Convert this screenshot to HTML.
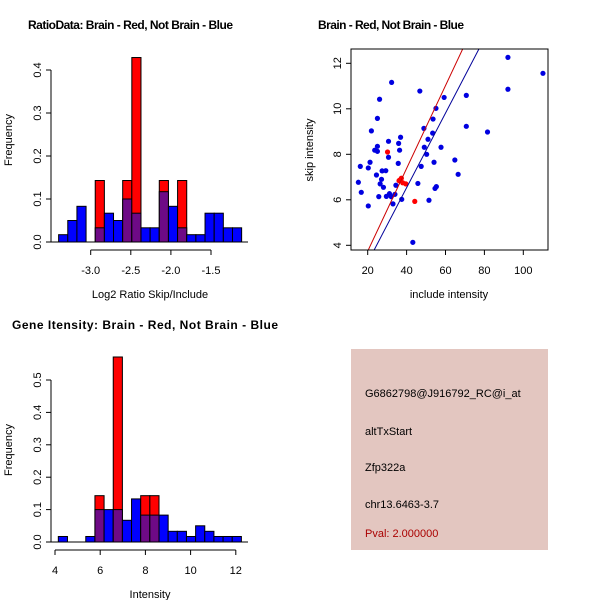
<!DOCTYPE html>
<html><head><meta charset="utf-8"><style>
html,body{margin:0;padding:0;background:#fff}
svg{display:block;font-family:"Liberation Sans",Arial,sans-serif}
</style></head><body>
<svg id="c" width="600" height="600" viewBox="0 0 600 600"></svg>
<script>
// ---- Ratio histogram data ----
const ratioBlue = [0.017,0.05,0.083,0,0.033,0.067,0.05,0.1,0.067,0.033,0.033,0.117,0.083,0.033,0.017,0.017,0.067,0.067,0.033,0.033];
const ratioRed  = [0,0,0,0,0.143,0,0,0.143,0.429,0,0,0.143,0,0.143,0,0,0,0,0,0];
const ratioXTicks = [-3.0,-2.5,-2.0,-1.5];
const ratioYTicks = [0.0,0.1,0.2,0.3,0.4];
const ratioBinStart = -3.40, ratioBinWidth = 0.1141;
// ---- Intensity histogram data ----
const intBlue = [0.017,0,0,0.017,0.1,0.1,0.1,0.067,0.133,0.083,0.083,0.083,0.033,0.033,0.017,0.05,0.033,0.017,0.017,0.017];
const intRed  = [0,0,0,0,0.143,0,0.571,0,0,0.143,0.143,0,0,0,0,0,0,0,0,0];
const intXTicks = [4,6,8,10,12];
const intYTicks = [0.0,0.1,0.2,0.3,0.4,0.5];
const intBinStart = 4.147, intBinWidth = 0.405;
// ---- Scatter data ----
const blueX = [15.2,16.2,16.7,20.3,20.3,21.2,21.9,23.6,24.5,25.0,25.0,25.0,26.1,25.7,26.4,27.1,27.4,28.1,29.3,29.6,30.7,30.7,31.2,32.3,32.1,33.0,34.0,34.5,35.7,35.9,36.4,36.9,37.5,43.2,45.8,46.8,47.5,48.9,49.1,50.3,51.0,51.5,53.4,53.6,54.1,54.6,55.3,55.1,57.7,59.3,64.8,66.5,70.7,70.7,81.6,92.1,92.1,110.1];
const blueY = [6.77,7.47,6.33,7.40,5.73,7.65,9.03,8.18,7.09,8.35,8.13,9.58,10.42,6.14,6.70,6.90,7.27,6.55,7.28,6.15,8.57,7.87,6.27,11.16,6.14,5.82,6.24,6.64,7.60,8.48,8.18,8.75,6.02,4.13,6.72,10.78,7.47,9.14,8.31,8.0,8.66,5.98,8.93,9.55,7.65,6.50,6.58,10.02,8.31,10.50,7.75,7.12,10.59,9.23,8.98,10.86,12.26,11.56];
const redX = [30.2,36.1,37.3,38.0,39.6,44.2,36.4];
const redY = [8.10,6.84,6.95,6.75,6.70,5.93,6.86];
const redFit = [0.10,0.182];   // intercept, slope
const blueFit = [-0.03,0.164];
const scXTicks = [20,40,60,80,100];
const scYTicks = [4,6,8,10,12];
// ---- Info panel ----
const infoLines = ["G6862798@J916792_RC@i_at","altTxStart","Zfp322a","chr13.6463-3.7"];
const pvalText = "Pval: 2.000000";

const NS="http://www.w3.org/2000/svg";
const svg=document.getElementById('c');
function el(tag,attrs,parent){const e=document.createElementNS(NS,tag);for(const k in attrs)e.setAttribute(k,attrs[k]);(parent||svg).appendChild(e);return e;}
function txt(s,attrs,parent){const t=el('text',attrs,parent);t.textContent=s;return t;}

function hist(opts){
  const g=el('g',{});
  
  
  const X=v=>opts.x0px+(v-opts.x0)*opts.xs, Y=v=>opts.y0px-v*opts.ys;
  const purple='#6e0a86';
  for(let i=0;i<opts.blue.length;i++){
    const a=opts.binStart+i*opts.binWidth, b=a+opts.binWidth;
    const x1=X(a), w=X(b)-x1, r=opts.red[i], bl=opts.blue[i];
    if(r>0){const e=el('rect',{x:x1,y:Y(r),width:w,height:Y(0)-Y(r),fill:'#ff0000',stroke:'#000','stroke-width':1},g);
      }
    if(bl>0){const e=el('rect',{x:x1,y:Y(bl),width:w,height:Y(0)-Y(bl),fill:r>0?purple:'#0000ff',stroke:'#000','stroke-width':1},g);
      }
  }
  el('line',{x1:opts.baseL,x2:opts.baseR,y1:Y(0),y2:Y(0),stroke:'#000','stroke-width':1},g);
  const ya=el('g',{},g);
  const yt=opts.yTicks;
  el('line',{x1:opts.yAxisX,x2:opts.yAxisX,y1:Y(yt[0]),y2:Y(yt[yt.length-1]),stroke:'#000'},ya);
  yt.forEach(v=>{el('line',{x1:opts.yAxisX-5,x2:opts.yAxisX,y1:Y(v),y2:Y(v),stroke:'#000'},ya);
    txt(v.toFixed(1),{x:opts.yAxisX-10,y:Y(v),'font-size':11,'text-anchor':'middle',transform:`rotate(-90 ${opts.yAxisX-10} ${Y(v)})`},ya);});
  const xa=el('g',{},g);
  const xt=opts.xTicks;
  el('line',{x1:X(xt[0]),x2:X(xt[xt.length-1]),y1:opts.xAxisY,y2:opts.xAxisY,stroke:'#000'},xa);
  xt.forEach(v=>{el('line',{x1:X(v),x2:X(v),y1:opts.xAxisY,y2:opts.xAxisY+5,stroke:'#000'},xa);
    txt(opts.fmt(v),{x:X(v),y:opts.xAxisY+24,'font-size':11,'text-anchor':'middle'},xa);});
}

hist({name:'ratio-histogram',blue:ratioBlue,red:ratioRed,binStart:ratioBinStart,binWidth:ratioBinWidth,
  x0:-3,x0px:90.7,xs:80.2,y0px:242,ys:430,yTicks:ratioYTicks,xTicks:ratioXTicks,yAxisX:51,xAxisY:250,
  baseL:50,baseR:248,fmt:v=>v.toFixed(1)});
hist({name:'intensity-histogram',blue:intBlue,red:intRed,binStart:intBinStart,binWidth:intBinWidth,
  x0:4,x0px:55,xs:22.6,y0px:542,ys:324,yTicks:intYTicks,xTicks:intXTicks,yAxisX:51,xAxisY:550,
  baseL:50,baseR:248,fmt:v=>String(v)});

let t;
t=txt('RatioData: Brain - Red, Not Brain - Blue',{x:28,y:29,'font-size':12,'font-weight':'bold',textLength:205});

t=txt('Brain - Red, Not Brain - Blue',{x:318,y:29,'font-size':12,'font-weight':'bold',textLength:146});

t=txt('Gene Itensity: Brain - Red, Not Brain - Blue',{x:12,y:329,'font-size':12,'font-weight':'bold',textLength:266});

t=txt('Log2 Ratio Skip/Include',{x:150,y:298,'font-size':11,'text-anchor':'middle'});

t=txt('Frequency',{x:12,y:140,'font-size':11,'text-anchor':'middle',transform:'rotate(-90 12 140)'});

t=txt('Intensity',{x:150,y:598,'font-size':11,'text-anchor':'middle'});

t=txt('Frequency',{x:12,y:450,'font-size':11,'text-anchor':'middle',transform:'rotate(-90 12 450)'});


const sg=el('g',{});


const L=351,R=548,T=49,B=250;
const SX=v=>367.7+(v-20)*1.945, SY=v=>245.3-(v-4)*22.75;
const cp=el('clipPath',{id:'clipS'},sg);
el('rect',{x:L,y:T,width:R-L,height:B-T},cp);
const inner=el('g',{'clip-path':'url(#clipS)'},sg);
blueX.forEach((x,i)=>{const c=el('circle',{cx:SX(x),cy:SY(blueY[i]),r:2.6,fill:'#0000e0'},inner);
  });
redX.forEach((x,i)=>{const c=el('circle',{cx:SX(x),cy:SY(redY[i]),r:2.6,fill:'#ff0000'},inner);
  });
function fit(f,col,name){const xa=0,xb=130;
  const l=el('line',{x1:SX(xa),y1:SY(f[0]+f[1]*xa),x2:SX(xb),y2:SY(f[0]+f[1]*xb),stroke:col,'stroke-width':1},inner);
  }
fit(redFit,'#cc0000','red-fit-line');
fit(blueFit,'#000099','blue-fit-line');
el('rect',{x:L,y:T,width:R-L,height:B-T,fill:'none',stroke:'#000'},sg);
scXTicks.forEach(v=>{el('line',{x1:SX(v),x2:SX(v),y1:B,y2:B+5,stroke:'#000'},sg);
  txt(String(v),{x:SX(v),y:B+24,'font-size':11,'text-anchor':'middle'},sg);});
scYTicks.forEach(v=>{el('line',{x1:L-5,x2:L,y1:SY(v),y2:SY(v),stroke:'#000'},sg);
  txt(String(v),{x:L-10,y:SY(v),'font-size':11,'text-anchor':'middle',transform:`rotate(-90 ${L-10} ${SY(v)})`},sg);});
t=txt('include intensity',{x:449,y:298,'font-size':11,'text-anchor':'middle'});

t=txt('skip intensity',{x:313,y:150,'font-size':11,'text-anchor':'middle',transform:'rotate(-90 313 150)'});


const ig=el('g',{});


el('rect',{x:351,y:349,width:197,height:201,fill:'#e3c6c0'},ig);
const ys=[397,435,471,508];
infoLines.forEach((s,i)=>{const e=txt(s,{x:365,y:ys[i],'font-size':11},ig);
  });
t=txt(pvalText,{x:365,y:537,'font-size':11,fill:'#aa0000'},ig);

</script>
</body></html>
